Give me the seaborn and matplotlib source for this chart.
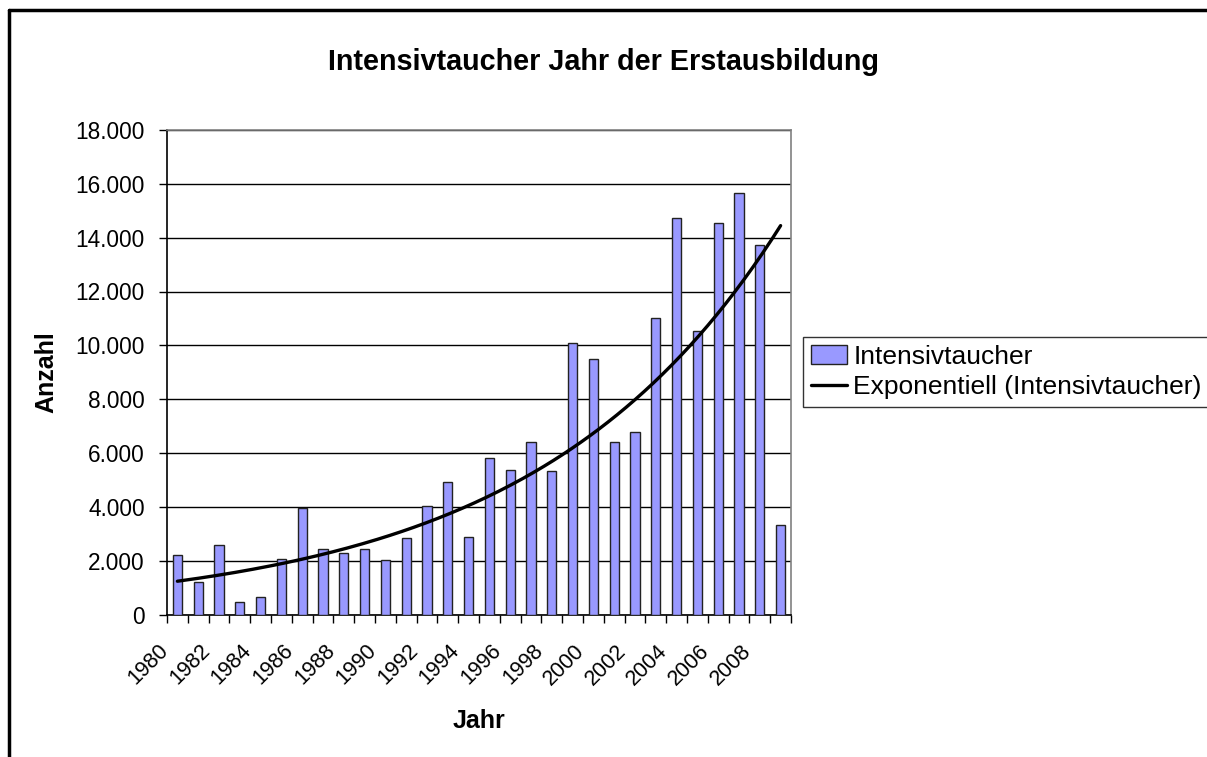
import numpy as np
import pandas as pd
import matplotlib
matplotlib.use("Agg")
import matplotlib.pyplot as plt
import matplotlib.transforms as mtransforms
import seaborn as sns
from matplotlib.ticker import FuncFormatter, FixedLocator, NullFormatter
from matplotlib.lines import Line2D

years = list(range(1980, 2010))
counts = [2200, 1200, 2600, 460, 650, 2050, 3950, 2450, 2300, 2450,
          2030, 2840, 4030, 4930, 2890, 5830, 5370, 6400, 5320, 10070,
          9500, 6400, 6790, 11030, 14730, 10540, 14550, 15650, 13740, 3320]
title = "Intensivtaucher Jahr der Erstausbildung"
series_name = "Intensivtaucher"
trend_name = "Exponentiell (Intensivtaucher)"

sns.set_theme(style="white")
plt.rcParams['font.family'] = ['Liberation Sans', 'DejaVu Sans']
plt.rcParams['text.color'] = 'black'
plt.rcParams['axes.labelcolor'] = 'black'
plt.rcParams['xtick.color'] = 'black'
plt.rcParams['ytick.color'] = 'black'

df = pd.DataFrame({"Jahr": [str(y) for y in years], "Anzahl": counts})

fig = plt.figure(figsize=(12.07, 7.57), dpi=100)
ax = fig.add_axes([167/1207, 1-614.5/757, (791-167)/1207, (614.5-130)/757])

sns.barplot(data=df, x="Jahr", y="Anzahl", color="#9999FF", saturation=1,
            width=0.45, edgecolor="#222222", linewidth=1.0, ax=ax, zorder=3)

# exponential trendline (least squares on ln y, as Excel)
xs = np.arange(1, len(counts) + 1)
b, a = np.polyfit(xs, np.log(counts), 1)
xf = np.linspace(1, len(counts), 200)
yf = np.exp(a + b * xf)
ax.plot(xf - 1, yf, color="black", lw=2.4, zorder=4)

ax.set_xlim(-0.5, len(years) - 0.5)
ax.set_ylim(0, 18000)
ax.set_yticks(np.arange(0, 18001, 2000))
ax.yaxis.set_major_formatter(FuncFormatter(lambda v, p: f"{int(v):,}".replace(",", ".")))
ax.grid(axis="y", color="black", lw=1.0, zorder=0)
ax.set_axisbelow(True)

# x ticks: labels at every second category, marks at boundaries
ax.set_xticks(np.arange(0, len(years), 2))
ax.set_xticklabels([str(y) for y in years[::2]], rotation=45, ha="right", va="center",
                   rotation_mode="anchor", fontsize=15.5)
ax.tick_params(axis="x", which="major", length=0, pad=24)
offset = mtransforms.ScaledTranslation(-12/100, 0, fig.dpi_scale_trans)
for lab in ax.get_xticklabels():
    lab.set_transform(lab.get_transform() + offset)
ax.xaxis.set_minor_locator(FixedLocator(np.arange(-0.5, len(years), 1)))
ax.xaxis.set_minor_formatter(NullFormatter())
ax.tick_params(axis="x", which="minor", length=6, width=1.0, color="black", direction="out", bottom=True)
ax.tick_params(axis="y", length=6, width=1.0, color="black", direction="out", left=True,
               labelsize=16.3, pad=10)

for s in ["left", "bottom"]:
    ax.spines[s].set_color("black")
    ax.spines[s].set_linewidth(1.2)
for s in ["top", "right"]:
    ax.spines[s].set_visible(True)
    ax.spines[s].set_color("#808080")
    ax.spines[s].set_linewidth(1.2)

ax.set_xlabel("Jahr", fontsize=18, fontweight="bold", labelpad=14)
ax.set_ylabel("Anzahl", fontsize=18, fontweight="bold", labelpad=12)

fig.text(0.5, 1 - 62/757, title, ha="center", va="center",
         fontsize=20.7, fontweight="bold")

handles = [plt.Rectangle((0, 0), 1, 1, facecolor="#9999FF", edgecolor="#222222", lw=1.0),
           Line2D([0], [0], color="black", lw=2.4)]
leg = fig.legend(handles, [series_name, trend_name], loc="center left",
                 bbox_to_anchor=(803/1207, 1 - 372/757), fontsize=19,
                 frameon=True, fancybox=False, edgecolor="black", borderpad=0.3,
                 handlelength=1.35, handletextpad=0.25, labelspacing=0.25,
                 borderaxespad=0)
leg.get_frame().set_linewidth(1.0)

# outer chart frame (top and left visible)
fig.add_artist(Line2D([8.5/1207, 8.5/1207], [0, 1 - 10/757], transform=fig.transFigure,
                      color="black", lw=2.5))
fig.add_artist(Line2D([8.5/1207, 1], [1 - 10/757, 1 - 10/757], transform=fig.transFigure,
                      color="black", lw=2.5))

fig.savefig("out.png", dpi=100, facecolor="white")
